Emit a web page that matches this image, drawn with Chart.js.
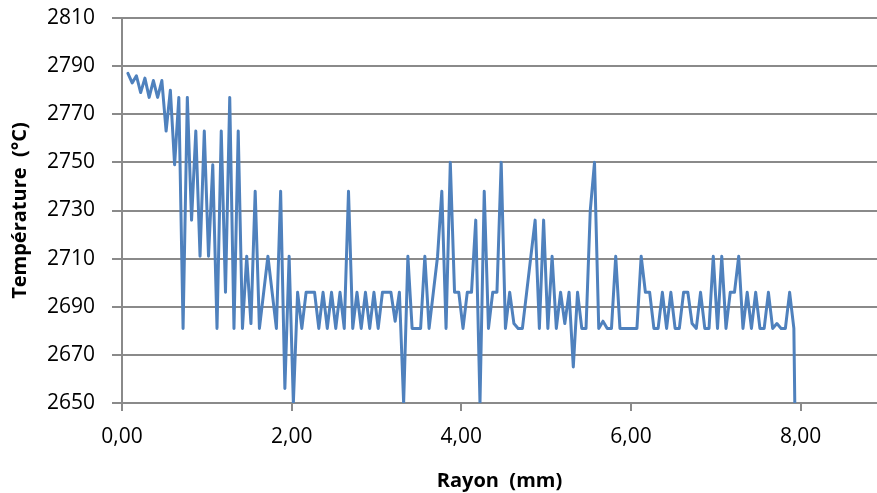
<!DOCTYPE html>
<html>
<head>
<meta charset="utf-8">
<title>Température / Rayon</title>
<script src="https://cdn.jsdelivr.net/npm/chart.js@4.4.0/dist/chart.umd.min.js"></script>
<style>
  html, body { margin: 0; padding: 0; background: #fff; }
  #wrap { width: 877px; height: 493px; }
</style>
</head>
<body>
<div id="wrap"><canvas id="chart"></canvas></div>
<script>
// --- DATA ---

// Rayon (mm), one point every 0.05 mm
const rayon = [
    0.07, 0.12, 0.17, 0.22, 0.27, 0.32, 0.37, 0.42, 0.47, 0.52,
    0.57, 0.62, 0.67, 0.72, 0.77, 0.82, 0.87, 0.92, 0.97, 1.02,
    1.07, 1.12, 1.17, 1.22, 1.27, 1.32, 1.37, 1.42, 1.47, 1.52,
    1.57, 1.62, 1.67, 1.72, 1.77, 1.82, 1.87, 1.92, 1.97, 2.02,
    2.07, 2.12, 2.17, 2.22, 2.27, 2.32, 2.37, 2.42, 2.47, 2.52,
    2.57, 2.62, 2.67, 2.72, 2.77, 2.82, 2.87, 2.92, 2.97, 3.02,
    3.07, 3.12, 3.17, 3.22, 3.27, 3.32, 3.37, 3.42, 3.47, 3.52,
    3.57, 3.62, 3.67, 3.72, 3.77, 3.82, 3.87, 3.92, 3.97, 4.02,
    4.07, 4.12, 4.17, 4.22, 4.27, 4.32, 4.37, 4.42, 4.47, 4.52,
    4.57, 4.62, 4.67, 4.72, 4.77, 4.82, 4.87, 4.92, 4.97, 5.02,
    5.07, 5.12, 5.17, 5.22, 5.27, 5.32, 5.37, 5.42, 5.47, 5.52,
    5.57, 5.62, 5.67, 5.72, 5.77, 5.82, 5.87, 5.92, 5.97, 6.02,
    6.07, 6.12, 6.17, 6.22, 6.27, 6.32, 6.37, 6.42, 6.47, 6.52,
    6.57, 6.62, 6.67, 6.72, 6.77, 6.82, 6.87, 6.92, 6.97, 7.02,
    7.07, 7.12, 7.17, 7.22, 7.27, 7.32, 7.37, 7.42, 7.47, 7.52,
    7.57, 7.62, 7.67, 7.72, 7.77, 7.82, 7.87, 7.92, 7.97
];

// Température (°C)
const temperature = [
    2787, 2783, 2786, 2779, 2785, 2777, 2784, 2777, 2784, 2763,
    2780, 2749, 2777, 2681, 2777, 2726, 2763, 2711, 2763, 2711,
    2749, 2681, 2763, 2696, 2777, 2681, 2763, 2681, 2711, 2683,
    2738, 2681, 2696, 2711, 2696, 2681, 2738, 2656, 2711, 2650,
    2696, 2681, 2696, 2696, 2696, 2681, 2696, 2681, 2696, 2681,
    2696, 2681, 2738, 2681, 2696, 2681, 2696, 2681, 2696, 2681,
    2696, 2696, 2696, 2684, 2696, 2650, 2711, 2681, 2681, 2681,
    2711, 2681, 2696, 2711, 2738, 2681, 2750, 2696, 2696, 2681,
    2696, 2696, 2726, 2650, 2738, 2681, 2696, 2696, 2750, 2681,
    2696, 2683, 2681, 2681, 2696, 2711, 2726, 2681, 2726, 2681,
    2711, 2681, 2696, 2683, 2696, 2665, 2696, 2681, 2681, 2730,
    2750, 2681, 2684, 2681, 2681, 2711, 2681, 2681, 2681, 2681,
    2681, 2711, 2696, 2696, 2681, 2681, 2696, 2681, 2696, 2681,
    2681, 2696, 2696, 2683, 2681, 2696, 2681, 2681, 2711, 2681,
    2711, 2681, 2696, 2696, 2711, 2681, 2696, 2681, 2696, 2681,
    2681, 2696, 2681, 2683, 2681, 2681, 2696, 2681, 2540
];

const xTicks = [0, 2, 4, 6, 8];
const yTicks = [2650, 2670, 2690, 2710, 2730, 2750, 2770, 2790, 2810];

const X_MAX = 8.9;

// --- STYLE ---

const GRID_COLOR = '#8a8a8a';
const LINE_COLOR = '#4f81bd';
const FONT = "'Open Sans', 'Liberation Sans', sans-serif";

// --- CHART ---

const points = rayon.map((r, i) => ({ x: r, y: temperature[i] }));

const ctx = document.getElementById('chart').getContext('2d');

new Chart(ctx, {
    type: 'line',
    data: {
        datasets: [
            {
                label: 'Température',
                data: points,
                borderColor: LINE_COLOR,
                backgroundColor: LINE_COLOR,
                borderWidth: 3,
                borderJoinStyle: 'round',
                borderCapStyle: 'round',
                pointRadius: 0,
                tension: 0,
                fill: false
            }
        ]
    },
    options: {
        responsive: true,
        maintainAspectRatio: false,
        animation: false,
        layout: { padding: { top: 18, right: 0, bottom: 0, left: 0 } },
        plugins: {
            legend: { display: false },
            tooltip: { enabled: false }
        },
        scales: {
            x: {
                type: 'linear',
                min: 0,
                max: X_MAX,
                afterBuildTicks: (scale) => {
                    scale.ticks = xTicks.map(v => ({ value: v }));
                },
                afterFit: (scale) => { scale.height = 90; },
                ticks: {
                    color: '#000',
                    font: { family: FONT, size: 21 },
                    padding: 13,
                    maxRotation: 0,
                    callback: (v) => v.toFixed(2).replace('.', ',')
                },
                grid: {
                    drawOnChartArea: false,
                    drawTicks: true,
                    tickLength: 8,
                    color: GRID_COLOR,
                    lineWidth: 2
                },
                border: { display: true, color: GRID_COLOR, width: 2 },
                title: {
                    display: true,
                    text: 'Rayon  (mm)',
                    color: '#000',
                    font: { family: FONT, size: 20, weight: 'bold' },
                    padding: { top: 3, bottom: 0 }
                }
            },
            y: {
                min: 2650,
                max: 2810,
                afterBuildTicks: (scale) => {
                    scale.ticks = yTicks.map(v => ({ value: v }));
                },
                afterFit: (scale) => {
                    scale.width = 122;
                    // let the layout padding alone set the plot top
                    scale.paddingTop = 0;
                    scale.paddingBottom = 0;
                },
                ticks: {
                    color: '#000',
                    font: { family: FONT, size: 21 },
                    padding: 17,
                    callback: (v) => String(v)
                },
                grid: {
                    drawTicks: true,
                    tickLength: 10,
                    color: GRID_COLOR,
                    lineWidth: 2
                },
                border: { display: true, color: GRID_COLOR, width: 2 },
                title: {
                    display: true,
                    text: 'Température  (°C)',
                    color: '#000',
                    font: { family: FONT, size: 20, weight: 'bold' },
                    padding: { top: 8, bottom: 0 }
                }
            }
        }
    }
});
</script>
</body>
</html>
